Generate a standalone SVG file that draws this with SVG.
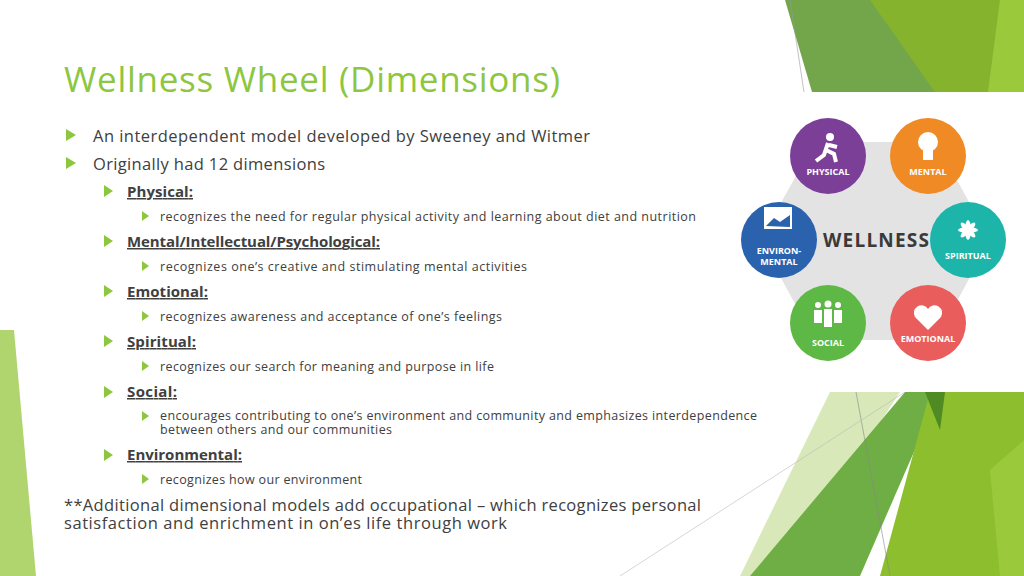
<svg xmlns="http://www.w3.org/2000/svg" width="1024" height="576" viewBox="0 0 1024 576">
<style>
.t{font-family:"Open Sans","DejaVu Sans",sans-serif;fill:#404040}
.l1{font-size:16.5px}.l2{font-size:15px;font-weight:bold;text-decoration:underline}.l3{font-size:12.5px}
.b{fill:#8DC63F}
.w{font-family:"Open Sans",sans-serif;font-weight:bold;fill:#fff;font-size:9px;text-anchor:middle}
</style>
<rect width="1024" height="576" fill="#fff"/>
<g id="deco">
<polygon points="785,0 1024,0 1024,92 812,92" fill="#73A64B"/>
<polygon points="870,0 1024,0 1024,92 935,92" fill="#86B32E"/>
<polygon points="1000,0 1024,0 1024,92 988,92" fill="#9BC93C"/>
<line x1="790" y1="0" x2="804" y2="92" stroke="#999" stroke-width="0.6"/>
<polygon points="0,330 14,330 36,576 0,576" fill="#9ECB4A" opacity="0.8"/>
<polygon points="830,392 900,392 780,576 740,576" fill="#D8E8B8"/>
<polygon points="905,392 940,392 860,576 750,576" fill="#6FAE44"/>
<polygon points="930,392 1024,392 1024,576 880,576" fill="#8DBE2E"/>
<polygon points="925,392 945,392 940,430" fill="#4F8A22"/>
<polygon points="990,470 1024,440 1024,576 1000,576" fill="#9ACA3C"/>
<line x1="856" y1="392" x2="890" y2="576" stroke="#888" stroke-width="0.6"/>
<line x1="620" y1="576" x2="905" y2="392" stroke="#bbb" stroke-width="0.6"/>
</g>
<g id="wheel">
<rect x="736" y="92" width="288" height="300" fill="#fff"/>
<polygon points="815,142 936,142 990,240 936,340 815,340 760,240" fill="#E3E3E4"/>
<circle cx="828" cy="156" r="38" fill="#7B3F98"/>
<circle cx="928" cy="156" r="38" fill="#F08A24"/>
<circle cx="779" cy="240" r="38" fill="#2A62AE"/>
<circle cx="968" cy="240" r="38" fill="#1DB5A9"/>
<circle cx="828" cy="323" r="38" fill="#5DB846"/>
<circle cx="928" cy="323" r="38" fill="#E95D5C"/>
<text x="828" y="175" class="w">PHYSICAL</text>
<text x="928" y="175" class="w">MENTAL</text>
<text x="779" y="254" class="w">ENVIRON-</text>
<text x="779" y="265" class="w">MENTAL</text>
<text x="968" y="259" class="w">SPIRITUAL</text>
<text x="828" y="346" class="w">SOCIAL</text>
<text x="928" y="342" class="w">EMOTIONAL</text>
<text x="876" y="247" font-family="Open Sans,sans-serif" font-weight="bold" font-size="19" fill="#3a3a3a" text-anchor="middle" textLength="106">WELLNESS</text>
<circle cx="830" cy="137" r="4" fill="#fff"/><path d="M828 143 l-4 12 l-8 6 M826 150 l8 4 l2 8 M829 145 l8 2" stroke="#fff" stroke-width="4" fill="none"/>
<circle cx="928" cy="142" r="10" fill="#fff"/><rect x="923" y="150" width="10" height="10" fill="#fff"/>
<rect x="764" y="207" width="28" height="22" fill="#fff"/><path d="M766 226 l8 -8 l6 4 l10 -7 v12 z" fill="#2A62AE"/>
<g fill="#fff" transform="translate(968,230)"><ellipse rx="3" ry="10"/><ellipse rx="3" ry="10" transform="rotate(45)"/><ellipse rx="3" ry="10" transform="rotate(90)"/><ellipse rx="3" ry="10" transform="rotate(135)"/></g>
<g fill="#fff"><circle cx="818" cy="305" r="3"/><circle cx="828" cy="304" r="3.5"/><circle cx="838" cy="305" r="3"/><rect x="814" y="310" width="8" height="13"/><rect x="824" y="309" width="8" height="18"/><rect x="834" y="310" width="8" height="13"/></g>
<path d="M928 330 l-13 -13 a7 7 0 0 1 13 -8 a7 7 0 0 1 13 8 z" fill="#fff"/>
</g>
<g id="text">
<text x="64" y="92" font-family="Open Sans,sans-serif" font-size="35" fill="#8DC63F" textLength="496">Wellness Wheel (Dimensions)</text>
<polygon class="b" points="66,129 76,135 66,141"/>
<text class="t l1" x="93" y="142" textLength="497">An interdependent model developed by Sweeney and Witmer</text>
<polygon class="b" points="66,157 76,163 66,169"/>
<text class="t l1" x="93" y="170" textLength="232">Originally had 12 dimensions</text>
<g>
<polygon class="b" points="104,185 113,191 104,197"/><text class="t l2" x="127" y="197" textLength="66">Physical:</text>
<polygon class="b" points="142,211 149,216 142,221"/><text class="t l3" x="160" y="221" textLength="536">recognizes the need for regular physical activity and learning about diet and nutrition</text>
<polygon class="b" points="104,235 113,241 104,247"/><text class="t l2" x="127" y="247" textLength="253">Mental/Intellectual/Psychological:</text>
<polygon class="b" points="142,261 149,266 142,271"/><text class="t l3" x="160" y="271" textLength="367">recognizes one’s creative and stimulating mental activities</text>
<polygon class="b" points="104,285 113,291 104,297"/><text class="t l2" x="127" y="297" textLength="81">Emotional:</text>
<polygon class="b" points="142,311 149,316 142,321"/><text class="t l3" x="160" y="321" textLength="342">recognizes awareness and acceptance of one’s feelings</text>
<polygon class="b" points="104,335 113,341 104,347"/><text class="t l2" x="127" y="347" textLength="69">Spiritual:</text>
<polygon class="b" points="142,361 149,366 142,371"/><text class="t l3" x="160" y="371" textLength="334">recognizes our search for meaning and purpose in life</text>
<polygon class="b" points="104,386 113,392 104,398"/><text class="t l2" x="127" y="397" textLength="50">Social:</text>
<polygon class="b" points="142,411 149,416 142,421"/><text class="t l3" x="160" y="420" textLength="597">encourages contributing to one’s environment and community and emphasizes interdependence</text>
<text class="t l3" x="160" y="434" textLength="232">between others and our communities</text>
<polygon class="b" points="104,449 113,455 104,461"/><text class="t l2" x="127" y="460" textLength="115">Environmental:</text>
<polygon class="b" points="142,474 149,479 142,484"/><text class="t l3" x="160" y="484" textLength="202">recognizes how our environment</text>
</g>
<text class="t l1" x="64" y="511" textLength="637">**Additional dimensional models add occupational – which recognizes personal</text>
<text class="t l1" x="64" y="529" textLength="443">satisfaction and enrichment in on’es life through work</text>
</g>
</svg>
